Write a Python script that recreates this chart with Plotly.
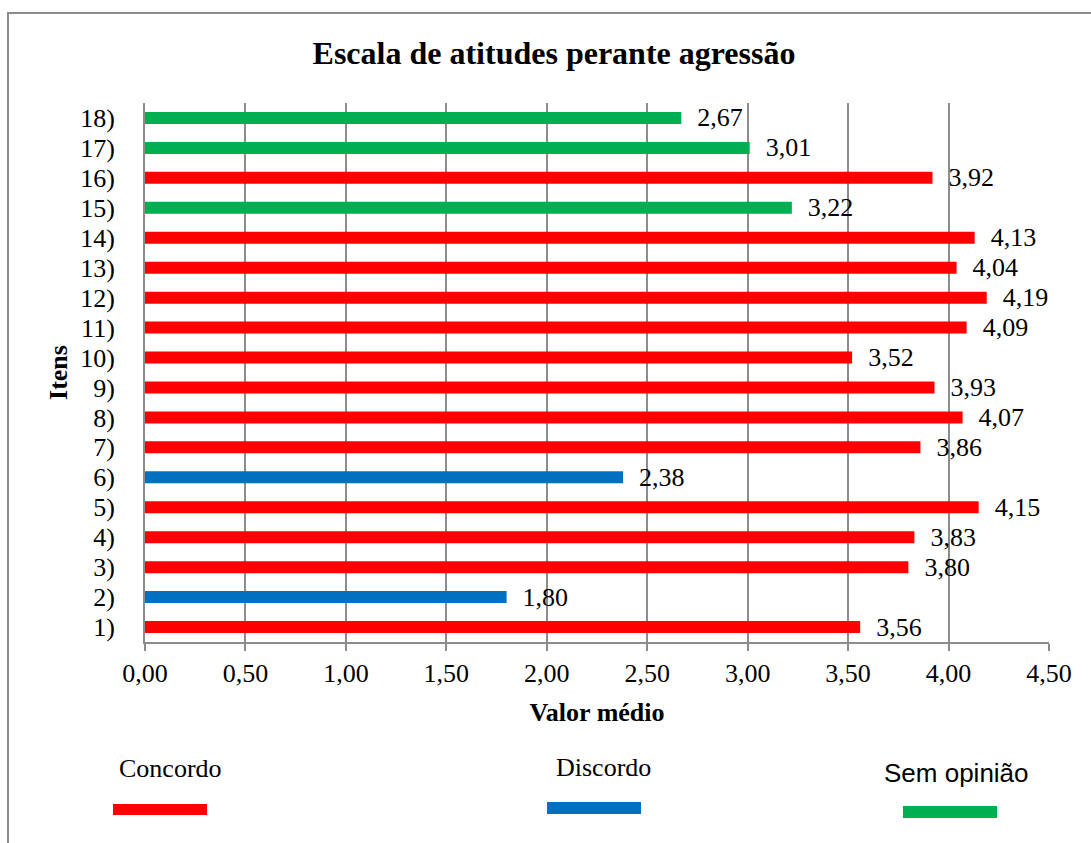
import plotly.graph_objects as go

# ---- data ----
items = [f"{i})" for i in range(1, 19)]
values = [3.56, 1.80, 3.80, 3.83, 4.15, 2.38, 3.86, 4.07, 3.93,
          3.52, 4.09, 4.19, 4.04, 4.13, 3.22, 3.92, 3.01, 2.67]
groups = ["Concordo", "Discordo", "Concordo", "Concordo", "Concordo", "Discordo",
          "Concordo", "Concordo", "Concordo", "Concordo", "Concordo", "Concordo",
          "Concordo", "Concordo", "Sem opinião", "Concordo", "Sem opinião", "Sem opinião"]
legend_names = ["Concordo", "Discordo", "Sem opinião"]
group_colors = {"Concordo": "#FF0000", "Discordo": "#0070C0", "Sem opinião": "#00B050"}
x_ticks = [0, 0.5, 1.0, 1.5, 2.0, 2.5, 3.0, 3.5, 4.0, 4.5]

W, H = 1091, 843
L, R, T, B = 145, 42, 103, 201
PW, PH = W - L - R, H - T - B


def px(x):
    return (x - L) / PW


def py(y):
    return (H - B - y) / PH


SERIF = "Liberation Serif, Times New Roman, serif"
GRID = "#8C8C8C"

labels = ["\u00a0\u00a0" + f"{v:.2f}".replace(".", ",") for v in values]

fig = go.Figure()
fig.add_trace(go.Bar(
    y=items, x=values, orientation="h",
    marker=dict(color=[group_colors[g] for g in groups], line=dict(width=0)),
    text=labels, textposition="outside", constraintext="none", cliponaxis=False,
    textfont=dict(family=SERIF, size=26, color="black"),
    showlegend=False, hoverinfo="x+y",
))

shapes = [
    dict(type="rect", xref="paper", yref="paper",
         x0=px(8), x1=px(1100), y0=py(860), y1=py(13),
         line=dict(color="#8C8C8C", width=2), fillcolor="rgba(0,0,0,0)", layer="below"),
]
annotations = []
legend_layout = [  # (text center x, text y, rect x0, rect x1, rect y0, rect y1, font, size)
    (170, 768, 113, 207, 804, 815, SERIF, 26),
    (603, 767, 547, 641, 802, 814, SERIF, 26),
    (956, 773, 903, 997, 806, 818, "Liberation Sans, Arial, sans-serif", 26),
]
for name, (tx, ty, rx0, rx1, ry0, ry1, fam, fs) in zip(legend_names, legend_layout):
    shapes.append(dict(type="rect", xref="paper", yref="paper",
                       x0=px(rx0), x1=px(rx1), y0=py(ry1), y1=py(ry0),
                       line=dict(width=0), fillcolor=group_colors[name]))
    annotations.append(dict(text=name, xref="paper", yref="paper", x=px(tx), y=py(ty),
                            xanchor="center", yanchor="middle", showarrow=False,
                            font=dict(family=fam, size=fs, color="black")))

fig.update_layout(
    width=W, height=H,
    margin=dict(l=L, r=R, t=T, b=B),
    paper_bgcolor="white", plot_bgcolor="white",
    separators=",.",
    bargap=0.6,
    title=dict(text="<b>Escala de atitudes perante agressão</b>",
               font=dict(family=SERIF, size=32, color="black"),
               x=554 / W, xanchor="center", xref="container",
               y=1 - 53 / H, yanchor="middle", yref="container"),
    xaxis=dict(range=[0, 4.5], tickmode="array", tickvals=x_ticks, tickformat=".2f",
               showgrid=True, gridcolor=GRID, gridwidth=2,
               showline=True, linecolor=GRID, linewidth=2,
               ticks="outside", ticklen=7, tickwidth=2, tickcolor=GRID,
               tickfont=dict(family=SERIF, size=26, color="black"),
               title=dict(text="<b>Valor médio</b>", standoff=16,
                          font=dict(family=SERIF, size=26, color="black")),
               zeroline=False, fixedrange=True, automargin=False),
    yaxis=dict(categoryorder="array", categoryarray=items,
               tickmode="array", tickvals=items, ticktext=items,
               showgrid=False, showline=True, linecolor=GRID, linewidth=2,
               ticks="", ticklabelstandoff=23,
               tickfont=dict(family=SERIF, size=26, color="black"),
               title=dict(text="<b>Itens</b>", standoff=5,
                          font=dict(family=SERIF, size=26, color="black")),
               fixedrange=True, automargin=False),
    shapes=shapes,
    annotations=annotations,
)

fig.write_html("out.html")
